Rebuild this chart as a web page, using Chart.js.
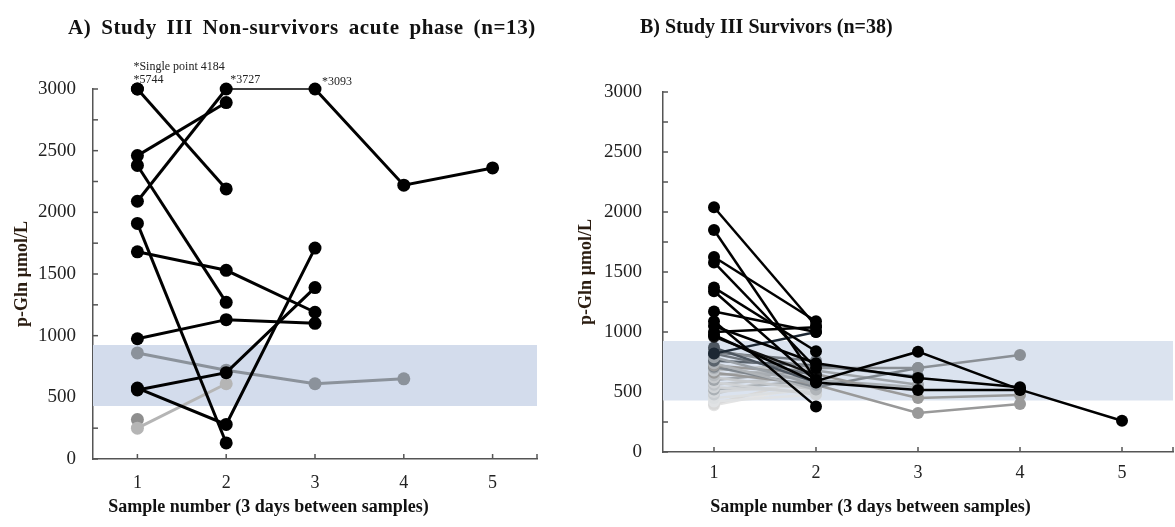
<!DOCTYPE html>
<html>
<head>
<meta charset="utf-8">
<script src="https://cdn.jsdelivr.net/npm/chart.js@4.4.0/dist/chart.umd.min.js"></script>
<style>
body { margin: 0; background: #fff; width: 1175px; height: 527px; position: relative; overflow: hidden; font-family: "Liberation Serif", serif; }
.panel { position: absolute; top: 0; height: 527px; }
.ttl { position: absolute; top: 15px; font-weight: bold; font-size: 21px; color: #111; white-space: nowrap; z-index: 2; }
</style>
</head>
<body>
<div class="ttl" style="left:68px; word-spacing:4px; letter-spacing:0.6px">A) Study III Non-survivors acute phase (n=13)</div>
<div class="ttl" style="left:640px; font-size:20px">B) Study III Survivors (n=38)</div>
<div class="panel" style="left:0; width:550px"><canvas id="chartA"></canvas></div>
<div class="panel" style="left:564px; width:615px"><canvas id="chartB"></canvas></div>
<script>
// Sample numbers on the x axis (3 days between samples)
var samples = [1, 2, 3, 4, 5];

// Reference range shown as the blue band (p-Gln, umol/L)
var bandLow = 430;
var bandHigh = 925;

// Panel A: non-survivors, values per sample (null = no sample)
// values above 3000 are drawn at the axis top
var seriesA = [
    [3000, 2190],
    [2460, 2890],
    [2090, 3000, 3000, 2220, 2360],
    [2380, 1270],
    [1910, 130],
    [1680, 1530, 1190],
    [975, 1130, 1100],
    [560, 700, 1390],
    [575, 280, 1710],
    [3000],
    [860, 720, 610, 650],
    [250, 610],
    [320]
];
var colorsA = ['#000', '#000', '#000', '#000', '#000', '#000', '#000', '#000', '#000', '#000',
               '#8b929b', '#b5b5b5', '#8e8e8e'];

// notes written above the clipped points
var notesA = [
    {x: 1, y: 3000, text: '*Single point 4184'},
    {x: 1, y: 3000, text: '*5744'},
    {x: 2, y: 3000, text: '*3727'},
    {x: 3, y: 3000, text: '*3093'}
];

// Panel B: survivors
var seriesB = [
    [2040, 1050],
    [1850, 600],
    [1625, 1090],
    [1580, 700],
    [1370, 840],
    [1340, 590, 836, 520, 260],
    [1170, 1000],
    [1090, 380],
    [1050, 740, 617, 540],
    [1000, 1040],
    [975, 580, 517, 517],
    [960, 640],
    [820, 1000],
    [870, 580],
    [850, 700, 700, 808],
    [830, 760],
    [820, 640],
    [790, 560],
    [760, 720, 628],
    [740, 520],
    [720, 650, 450, 475],
    [710, 540, 700],
    [700, 600],
    [680, 740],
    [660, 560, 325, 400],
    [640, 700],
    [620, 520],
    [600, 680, 560],
    [580, 480],
    [560, 640],
    [540, 500],
    [520, 600, 540],
    [500, 560],
    [480, 700],
    [450, 520],
    [420, 480],
    [400, 620],
    [390, 560]
];
var colorsB = ['#000', '#000', '#000', '#000', '#000', '#000', '#000', '#000', '#000', '#000', '#000', '#111',
               '#1c2733', '#4d5660', '#8a8f95', '#737a82', '#6e757d', '#9aa0a6', '#5a636c', '#b0b4b8',
               '#9a9a9a', '#7f868d', '#a8adb2', '#c0c4c8', '#999999', '#b8bcc0', '#c6c9cc', '#a0a5aa',
               '#cfd2d5', '#bfc3c7', '#d0d3d6', '#aab0b5', '#d5d8db', '#c9cdd1', '#dcdfe1', '#e0e2e4',
               '#d8d8d8', '#e4e4e4'];

// Short tick marks pointing into the plot, like the original figure
var innerTicks = {
    id: 'innerTicks',
    beforeDatasetsDraw: function(chart) {
        var ctx = chart.ctx, area = chart.chartArea;
        ctx.save();
        ctx.strokeStyle = '#555';
        ctx.lineWidth = 1.5;
        chart.scales.y.ticks.forEach(function(t) {
            var py = chart.scales.y.getPixelForValue(t.value);
            ctx.beginPath(); ctx.moveTo(area.left, py); ctx.lineTo(area.left + 5, py); ctx.stroke();
        });
        chart.scales.x.ticks.forEach(function(t) {
            var px = chart.scales.x.getPixelForValue(t.value);
            ctx.beginPath(); ctx.moveTo(px, area.bottom); ctx.lineTo(px, area.bottom - 5); ctx.stroke();
        });
        ctx.restore();
    }
};

// Text notes for panel A
var notesPlugin = {
    id: 'notes',
    afterDatasetsDraw: function(chart, args, opts) {
        if (!opts.items) return;
        var ctx = chart.ctx;
        var offsets = [[-4, -22], [-4, -9], [4, -9], [7, -7]];
        ctx.save();
        ctx.font = '12px "Liberation Serif", serif';
        ctx.fillStyle = '#222';
        ctx.textBaseline = 'middle';
        opts.items.forEach(function(n, i) {
            var px = chart.scales.x.getPixelForValue(n.x) + offsets[i][0];
            var py = chart.scales.y.getPixelForValue(n.y) + offsets[i][1];
            ctx.fillText(n.text, px, py);
        });
        ctx.restore();
    }
};

function toPoints(vals) {
    var pts = [];
    vals.forEach(function(v, i) {
        if (v !== null && v !== undefined) pts.push({x: samples[i], y: v});
    });
    return pts;
}

function makePanel(id, series, colors, geo) {
    var datasets = [];
    series.forEach(function(s, i) {
        datasets.push({
            data: toPoints(s),
            borderColor: colors[i],
            backgroundColor: colors[i],
            pointBackgroundColor: colors[i],
            pointBorderWidth: 0,
            pointRadius: geo.radius,
            borderWidth: geo.line,
            clip: false,
            segment: {
                borderWidth: function(c) { return (c.p0.parsed.y >= 3000 && c.p1.parsed.y >= 3000) ? 1.3 : geo.line; }
            }
        });
    });
    // reference band, drawn behind the lines
    datasets.push({
        data: [{x: 0.5, y: bandHigh}, {x: 5.5, y: bandHigh}],
        borderWidth: 0, pointRadius: 0, fill: '+1',
        backgroundColor: geo.band, borderColor: 'rgba(0,0,0,0)'
    });
    datasets.push({
        data: [{x: 0.5, y: bandLow}, {x: 5.5, y: bandLow}],
        borderWidth: 0, pointRadius: 0, fill: false,
        borderColor: 'rgba(0,0,0,0)'
    });

    return new Chart(document.getElementById(id), {
        type: 'line',
        data: {datasets: datasets},
        plugins: [innerTicks, notesPlugin],
        options: {
            responsive: true,
            maintainAspectRatio: false,
            animation: false,
            layout: {padding: {top: geo.top, right: geo.right, left: 0, bottom: 0}},
            plugins: {
                legend: {display: false},
                tooltip: {enabled: false},
                title: {display: false},
                subtitle: {
                    display: true,
                    position: 'bottom',
                    text: 'Sample number (3 days between samples)',
                    color: '#111',
                    font: {family: '"Liberation Serif", serif', size: 18, weight: 'bold'},
                    padding: {top: 0, bottom: 9}
                },
                notes: {items: geo.notes}
            },
            scales: {
                x: {
                    type: 'linear',
                    min: 0.5, max: 5.5,
                    grid: {display: false, drawTicks: false},
                    border: {display: true, color: '#555', width: 1.5},
                    ticks: {
                        autoSkip: false, maxRotation: 0, padding: geo.xpad,
                        color: '#222',
                        font: {family: '"Liberation Serif", serif', size: 18},
                        callback: function(v) { return Number.isInteger(v) ? String(v) : ''; }
                    },
                    afterBuildTicks: function(scale) {
                        var t = samples.map(function(s) { return {value: s}; });
                        t.push({value: 5.5});
                        scale.ticks = t;
                    },
                    afterFit: function(scale) {
                        scale.height = geo.xh;
                        scale.paddingRight = 0;
                        scale.paddingLeft = 0;
                    }
                },
                y: {
                    min: 0, max: 3000,
                    grid: {display: false, drawTicks: false},
                    border: {display: true, color: '#555', width: 1.5},
                    ticks: {
                        stepSize: 250, autoSkip: false, padding: geo.ypad,
                        color: '#222',
                        font: {family: '"Liberation Serif", serif', size: 19},
                        callback: function(v) { return v % 500 === 0 ? v : ''; }
                    },
                    title: {
                        display: true,
                        text: 'p-Gln \u00b5mol/L',
                        color: '#2a1c10',
                        font: {family: '"Liberation Serif", serif', size: 18, weight: 'bold'},
                        padding: {top: 12, bottom: 0}
                    },
                    afterFit: function(scale) { scale.width = geo.yw; }
                }
            }
        }
    });
}

makePanel('chartA', seriesA, colorsA, {
    top: 89, right: 13, yw: 93, xh: 37.4, xpad: 13, ypad: 17,
    radius: 6.5, line: 3, band: '#d3dcec', notes: notesA
});
makePanel('chartB', seriesB, colorsB, {
    top: 92, right: 2, yw: 99, xh: 44.4, xpad: 10, ypad: 21,
    radius: 6, line: 2.5, band: '#dbe3ef', notes: null
});
</script>
</body>
</html>
